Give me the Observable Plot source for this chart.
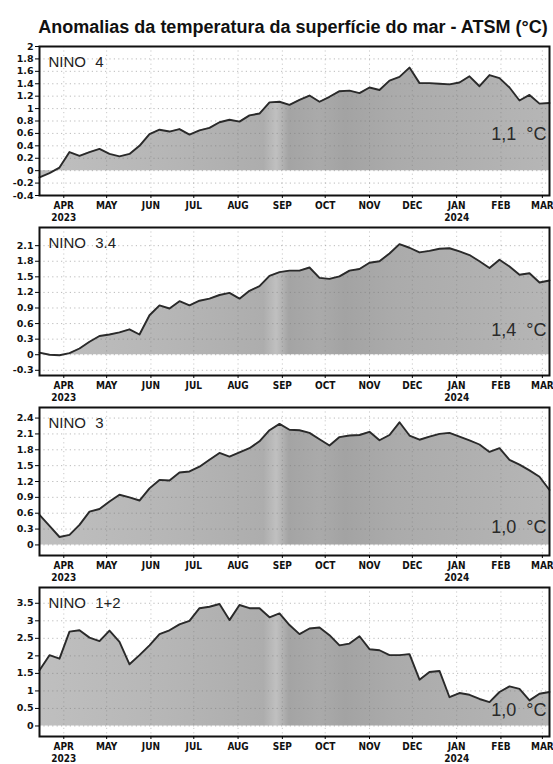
<!DOCTYPE html>
<html>
<head>
<meta charset="utf-8">
<script src="https://cdn.jsdelivr.net/npm/d3@7"></script>
<script src="https://cdn.jsdelivr.net/npm/@observablehq/plot@0.6"></script>
<style>
  html, body { margin: 0; padding: 0; background: #fff; }
  #root { position: relative; width: 553px; height: 764px; overflow: hidden; background: #fff; }
  #title { position: absolute; left: 0; width: 586px; top: 18px; text-align: center; white-space: nowrap;
           font: bold 18px "Liberation Sans", Arial, sans-serif; line-height: 18px; color: #111; }
  .panel { position: absolute; left: 0; }
</style>
</head>
<body>
<div id="root">
  <div id="title">Anomalias da temperatura da superfície do mar - ATSM (°C)</div>
</div>
<script>
// ---- data (weekly SST anomalies, °C) ----
const dates = [
  "2023-03-15","2023-03-22","2023-03-29","2023-04-05","2023-04-12","2023-04-19","2023-04-26",
  "2023-05-03","2023-05-10","2023-05-17","2023-05-24","2023-05-31","2023-06-07","2023-06-14",
  "2023-06-21","2023-06-28","2023-07-05","2023-07-12","2023-07-19","2023-07-26","2023-08-02",
  "2023-08-09","2023-08-16","2023-08-23","2023-08-30","2023-09-06","2023-09-13","2023-09-20",
  "2023-09-27","2023-10-04","2023-10-11","2023-10-18","2023-10-25","2023-11-01","2023-11-08",
  "2023-11-15","2023-11-22","2023-11-29","2023-12-06","2023-12-13","2023-12-20","2023-12-27",
  "2024-01-03","2024-01-10","2024-01-17","2024-01-24","2024-01-31","2024-02-07","2024-02-14",
  "2024-02-21","2024-02-28","2024-03-06"
];
const nino4 = [
  -0.11,-0.04,0.05,0.30,0.24,0.30,0.35,0.27,0.23,0.27,0.40,0.59,0.66,0.63,0.67,0.58,0.65,0.69,
  0.78,0.82,0.79,0.89,0.92,1.10,1.11,1.06,1.14,1.21,1.11,1.19,1.28,1.29,1.25,1.34,1.30,1.45,
  1.51,1.66,1.41,1.41,1.40,1.39,1.42,1.52,1.36,1.54,1.49,1.34,1.13,1.22,1.08,1.09
];
const nino34 = [
  0.04,0.00,-0.01,0.03,0.12,0.25,0.36,0.39,0.43,0.49,0.39,0.76,0.95,0.89,1.03,0.95,1.04,1.08,
  1.15,1.19,1.08,1.23,1.32,1.52,1.59,1.62,1.62,1.68,1.48,1.46,1.51,1.62,1.65,1.77,1.80,1.95,
  2.13,2.06,1.97,2.00,2.04,2.05,1.99,1.92,1.80,1.67,1.83,1.70,1.54,1.57,1.39,1.43
];
const nino3 = [
  0.57,0.36,0.15,0.19,0.38,0.63,0.68,0.82,0.95,0.90,0.84,1.07,1.23,1.22,1.37,1.39,1.48,1.61,
  1.74,1.67,1.75,1.83,1.96,2.17,2.29,2.18,2.17,2.12,2.00,1.88,2.04,2.07,2.08,2.14,1.98,2.08,
  2.32,2.07,1.99,2.05,2.10,2.12,2.05,1.98,1.90,1.76,1.83,1.61,1.52,1.41,1.29,1.04
];
const nino12 = [
  1.59,2.02,1.92,2.69,2.73,2.52,2.42,2.72,2.40,1.76,2.02,2.30,2.62,2.73,2.90,3.00,3.36,3.40,
  3.48,3.02,3.45,3.36,3.36,3.10,3.21,2.88,2.62,2.78,2.81,2.59,2.30,2.35,2.56,2.19,2.16,2.02,
  2.02,2.05,1.32,1.54,1.57,0.82,0.94,0.89,0.77,0.68,0.97,1.13,1.06,0.73,0.92,0.97
];
const panelNames = ["NINO 4", "NINO 3.4", "NINO 3", "NINO 1+2"];
const latestLabels = ["1,1 °C", "1,4 °C", "1,0 °C", "1,0 °C"];
const monthTicks = ["2023-04-01","2023-05-01","2023-06-01","2023-07-01","2023-08-01","2023-09-01",
                    "2023-10-01","2023-11-01","2023-12-01","2024-01-01","2024-02-01","2024-03-01"];
const monthLabels = ["APR","MAY","JUN","JUL","AUG","SEP","OCT","NOV","DEC","JAN","FEB","MAR"];
const yearTicks = ["2023-04-01", "2024-01-01"];
const yearLabels = ["2023", "2024"];
const yTicks4  = [-0.4,-0.2,0,0.2,0.4,0.6,0.8,1,1.2,1.4,1.6,1.8,2];
const yTicks34 = [-0.3,0,0.3,0.6,0.9,1.2,1.5,1.8,2.1];
const yTicks3  = [0,0.3,0.6,0.9,1.2,1.5,1.8,2.1,2.4];
const yTicks12 = [0,0.5,1,1.5,2,2.5,3,3.5];

// ---- layout ----
const series = [nino4, nino34, nino3, nino12];
const panels = [
  {ticks: yTicks4,  domain: [-0.4, 2.0],  top: 46,  bottom: 195, labelDy: 61},
  {ticks: yTicks34, domain: [-0.4, 2.45], top: 227, bottom: 375, labelDy: 45},
  {ticks: yTicks3,  domain: [-0.2, 2.6],  top: 407, bottom: 555, labelDy: 28},
  {ticks: yTicks12, domain: [-0.3, 3.95], top: 587, bottom: 736, labelDy: 26}
];
const parse = d3.utcParse("%Y-%m-%d");
const xDomain = [parse(dates[0]), parse(dates[dates.length - 1])];
const mTicks = monthTicks.map(parse);
const monthLabelOf = new Map(mTicks.map((d, i) => [+d, monthLabels[i]]));
const yTicksDates = yearTicks.map(parse);
const narrow = "'Liberation Sans Narrow', 'DejaVu Sans Condensed', 'Liberation Sans', sans-serif";
const root = document.getElementById("root");

panels.forEach((p, k) => {
  const data = dates.map((d, i) => ({date: parse(d), value: series[k][i]}));
  const mt = 6, mb = 30;
  const h = mt + (p.bottom - p.top) + mb;
  const gid = "fillgrad" + k;
  const chart = Plot.plot({
    width: 553, height: h,
    marginLeft: 39, marginRight: 4, marginTop: mt, marginBottom: mb,
    style: {background: "transparent", overflow: "visible"},
    x: {type: "utc", domain: xDomain, inset: 0},
    y: {domain: p.domain, inset: 0},
    marks: [
      Plot.areaY(data, {x: "date", y: "value", fill: `url(#${gid})`}),
      Plot.gridY(p.ticks, {stroke: "#777", strokeOpacity: 0.5, strokeDasharray: "1.2,3.2"}),
      Plot.gridX(mTicks, {stroke: "#777", strokeOpacity: 0.4, strokeDasharray: "1.2,3.2"}),
      Plot.lineY(data, {x: "date", y: "value", stroke: "#2a2a2a", strokeWidth: 1.9}),
      Plot.frame({stroke: "#111", strokeWidth: 2}),
      Plot.axisY(p.ticks, {tickSize: 4, tickPadding: 2, tickFormat: d => String(d),
        fontSize: 9.5, fontWeight: "bold", fontFamily: "'DejaVu Sans', sans-serif", fill: "#111", label: null}),
      Plot.axisX(mTicks, {tickSize: 3, tickPadding: 3, tickFormat: d => monthLabelOf.get(+d),
        fontSize: 10, fontWeight: "bold", fontFamily: narrow, fill: "#111", label: null}),
      Plot.text(yTicksDates, {x: d => d, text: (d, i) => yearLabels[i], frameAnchor: "bottom",
        dy: 18, lineAnchor: "top", fontSize: 10, fontWeight: "bold", fontFamily: narrow, fill: "#111"}),
      Plot.text([panelNames[k]], {text: d => d, frameAnchor: "top-left", dx: 9, dy: 16,
        lineAnchor: "middle", fontSize: 15, fontFamily: "'Liberation Sans', sans-serif", fill: "#222"}),
      Plot.text([latestLabels[k]], {text: d => d, frameAnchor: "bottom-right", dx: -3, dy: -p.labelDy,
        lineAnchor: "middle", fontSize: 18, fontFamily: "'Liberation Sans', sans-serif", fill: "#2a2a2a"})
    ]
  });
  const svg = d3.select(chart);
  svg.style("word-spacing", "5px");
  const grad = svg.insert("defs", ":first-child").append("linearGradient")
    .attr("id", gid).attr("gradientUnits", "userSpaceOnUse")
    .attr("x1", 39).attr("x2", 549).attr("y1", 0).attr("y2", 0);
  [[0, "#bfbfbf"], [0.25, "#b6b6b6"], [0.44, "#adadad"], [0.465, "#c0c0c0"], [0.49, "#a4a4a4"],
   [0.55, "#aaaaaa"], [0.6, "#a3a3a3"], [0.7, "#ababab"], [0.85, "#b0b0b0"], [1, "#b6b6b6"]]
    .forEach(([o, c]) => grad.append("stop").attr("offset", o).attr("stop-color", c));
  const div = document.createElement("div");
  div.className = "panel";
  div.style.top = (p.top - mt) + "px";
  div.appendChild(chart);
  root.appendChild(div);
});
</script>
</body>
</html>
